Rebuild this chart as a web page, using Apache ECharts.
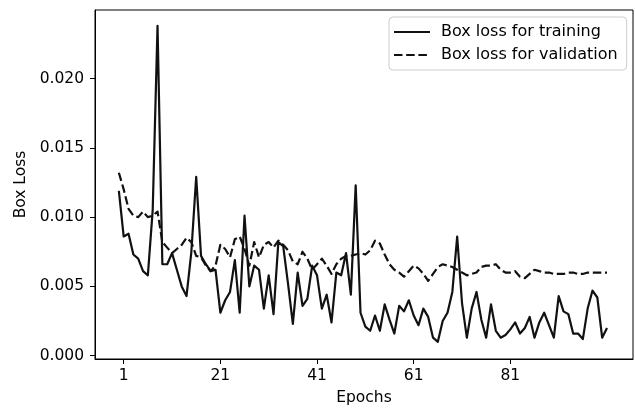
<!DOCTYPE html>
<html>
<head>
<meta charset="utf-8">
<script src="https://cdn.jsdelivr.net/npm/echarts@6/dist/echarts.min.js"></script>
<style>
html,body{margin:0;padding:0;background:#fff;}
#chart{width:635px;height:411px;}
</style>
</head>
<body>
<div id="chart"></div>
<script>
// Epoch index of each logged point
const epochs = Array.from({ length: 102 }, (_, i) => i);

// Box loss for training (solid)
const trainLoss = [
  0.0119, 0.0086, 0.0088, 0.0073, 0.0070, 0.0061, 0.0058, 0.0105, 0.0238, 0.0066,
  0.0066, 0.0074, 0.0062, 0.0050, 0.0043, 0.0075, 0.0129, 0.0072, 0.0066, 0.0061,
  0.0062, 0.0031, 0.0040, 0.0046, 0.0069, 0.0031, 0.0101, 0.0050, 0.0065, 0.0062,
  0.0034, 0.0058, 0.0030, 0.0082, 0.0079, 0.0052, 0.0023, 0.0060, 0.0036, 0.0041,
  0.0065, 0.0058, 0.0034, 0.0044, 0.0024, 0.0060, 0.0058, 0.0074, 0.0044, 0.0123,
  0.0031, 0.0021, 0.0018, 0.0029, 0.0018, 0.0037, 0.0026, 0.0016, 0.0036, 0.0032,
  0.0040, 0.0029, 0.0022, 0.0034, 0.0028, 0.0013, 0.0010, 0.0025, 0.0031, 0.0046,
  0.0086, 0.0038, 0.0013, 0.0034, 0.0046, 0.0026, 0.0013, 0.0037, 0.0018, 0.0013,
  0.0015, 0.0019, 0.0024, 0.0016, 0.0020, 0.0028, 0.0013, 0.0024, 0.0031, 0.0022,
  0.0013, 0.0043, 0.0032, 0.0030, 0.0016, 0.0016, 0.0012, 0.0034, 0.0047, 0.0042,
  0.0013, 0.0020
];

// Box loss for validation (dashed)
const valLoss = [
  0.0132, 0.0120, 0.0106, 0.0101, 0.0100, 0.0104, 0.0100, 0.0101, 0.0104, 0.0082,
  0.0078, 0.0074, 0.0077, 0.0080, 0.0085, 0.0082, 0.0072, 0.0071, 0.0065, 0.0061,
  0.0065, 0.0080, 0.0077, 0.0071, 0.0084, 0.0086, 0.0077, 0.0065, 0.0082, 0.0071,
  0.0080, 0.0082, 0.0078, 0.0083, 0.0080, 0.0076, 0.0068, 0.0066, 0.0075, 0.0070,
  0.0062, 0.0066, 0.0070, 0.0065, 0.0059, 0.0066, 0.0070, 0.0072, 0.0072, 0.0073,
  0.0074, 0.0073, 0.0076, 0.0083, 0.0081, 0.0073, 0.0066, 0.0062, 0.0060, 0.0057,
  0.0061, 0.0065, 0.0063, 0.0059, 0.0054, 0.0059, 0.0064, 0.0066, 0.0065, 0.0064,
  0.0062, 0.0060, 0.0058, 0.0059, 0.0060, 0.0064, 0.0065, 0.0065, 0.0066, 0.0062,
  0.0060, 0.0060, 0.0061, 0.0057, 0.0056, 0.0059, 0.0062, 0.0061, 0.0060, 0.0060,
  0.0059, 0.0059, 0.0059, 0.0060, 0.0060, 0.0059, 0.0059, 0.0060, 0.0060, 0.0060,
  0.0060, 0.0060
];

const seriesNames = ['Box loss for training', 'Box loss for validation'];
const xTickLabels = [1, 21, 41, 61, 81];
const yTickLabels = [0.000, 0.005, 0.010, 0.015, 0.020];

const FONT = 'DejaVu Sans';
const INK = '#000';

const chart = echarts.init(document.getElementById('chart'), null, { renderer: 'canvas' });

chart.setOption({
  animation: false,
  backgroundColor: '#fff',
  textStyle: { fontFamily: FONT },
  grid: {
    left: 95, right: 2, top: 10, bottom: 51,
    show: true, borderColor: INK, borderWidth: 1, backgroundColor: 'transparent'
  },
  legend: {
    data: seriesNames,
    orient: 'vertical',
    left: 389, top: 17,
    padding: [6, 9, 6, 4],
    itemWidth: 36, itemHeight: 14, itemGap: 5,
    itemStyle: { opacity: 0 },
    backgroundColor: 'rgba(255,255,255,0.8)',
    borderColor: '#cccccc', borderWidth: 1, borderRadius: 4,
    textStyle: { fontFamily: FONT, fontSize: 16, color: INK, lineHeight: 18, padding: [0, 0, 0, 6] }
  },
  xAxis: {
    type: 'value',
    min: -4.938, max: 106.38,
    name: 'Epochs', nameLocation: 'middle', nameGap: 31,
    nameTextStyle: { fontFamily: FONT, fontSize: 15.5, color: INK },
    axisLine: { show: true, onZero: false, lineStyle: { color: INK, width: 1 } },
    axisTick: { show: true, customValues: xTickLabels, length: 5, lineStyle: { color: INK } },
    axisLabel: { customValues: xTickLabels, margin: 9, fontFamily: FONT, fontSize: 15.5, color: INK },
    splitLine: { show: false }
  },
  yAxis: {
    type: 'value',
    min: -0.000237, max: 0.024942,
    name: 'Box Loss', nameLocation: 'middle', nameGap: 65,
    nameTextStyle: { fontFamily: FONT, fontSize: 15.5, color: INK },
    axisLine: { show: true, onZero: false, lineStyle: { color: INK, width: 1 } },
    axisTick: { show: true, customValues: yTickLabels, length: 5, lineStyle: { color: INK } },
    axisLabel: {
      customValues: yTickLabels, margin: 11, fontFamily: FONT, fontSize: 15.5, color: INK,
      formatter: v => v.toFixed(3)
    },
    splitLine: { show: false }
  },
  series: [
    {
      name: seriesNames[0], type: 'line', symbol: 'none',
      data: epochs.map((e, i) => [e, trainLoss[i]]),
      lineStyle: { color: '#111', width: 2.2, type: 'solid', join: 'round', cap: 'butt' },
      itemStyle: { color: '#111' }
    },
    {
      name: seriesNames[1], type: 'line', symbol: 'none',
      data: epochs.map((e, i) => [e, valLoss[i]]),
      lineStyle: { color: '#111', width: 2.2, type: [8.5, 3.7], join: 'round', cap: 'butt' },
      itemStyle: { color: '#111' }
    }
  ]
});
</script>
</body>
</html>
